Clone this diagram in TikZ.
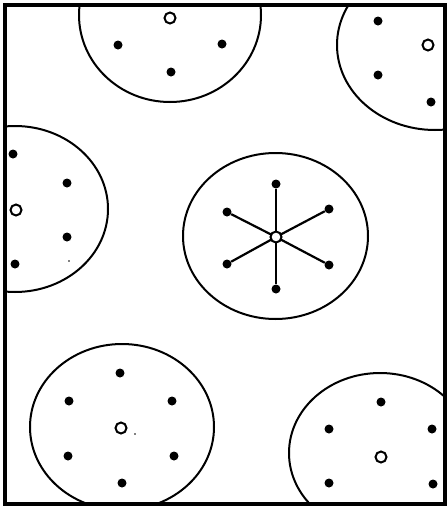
\documentclass[tikz,border=0pt]{standalone}
\begin{document}
\begin{tikzpicture}[x=1pt,y=-1pt,
  fdot/.style={circle,fill=black,inner sep=0pt,minimum size=9pt},
  odot/.style={circle,draw=black,fill=white,line width=2pt,inner sep=0pt,minimum size=11pt},
  tiny/.style={circle,fill=black,inner sep=0pt,minimum size=1.8pt},
  rim/.style={line width=2pt},
  spoke/.style={line width=2.2pt},
  frame/.style={line width=3.5pt}]
\useasboundingbox (0,0) rectangle (447,509);
% clipped cells
\begin{scope}
  \clip (5,5) rectangle (445,504);
  \draw[rim] (170,15) ellipse [x radius=91pt, y radius=87pt];
  \draw[rim] (435,45) ellipse [x radius=98pt, y radius=85pt];
  \draw[rim] (15,209) ellipse [x radius=93pt, y radius=83pt];
  \draw[rim] (275.5,236) ellipse [x radius=92.5pt, y radius=83pt];
  \draw[rim] (122,427) ellipse [x radius=92pt, y radius=83pt];
  \draw[rim] (380,453) ellipse [x radius=91pt, y radius=80pt];
\end{scope}
\draw[frame] (5,5) rectangle (445,504);
% top-centre cell
\node[odot] (a0) at (170,18) {};
\node[fdot] (a1) at (118,45) {};
\node[fdot] (a2) at (222,44) {};
\node[fdot] (a3) at (171,72) {};
% top-right cell
\node[fdot] (b1) at (378,21) {};
\node[odot] (b0) at (428,45) {};
\node[fdot] (b2) at (378,75) {};
\node[fdot] (b3) at (431,102) {};
% left cell
\node[fdot] (c1) at (13,154) {};
\node[fdot] (c2) at (67,183) {};
\node[odot] (c0) at (16,210) {};
\node[fdot] (c3) at (67,237) {};
\node[fdot] (c4) at (15,264) {};
\node[tiny] (c5) at (69,261) {};
% centre cell with star
\node[fdot] (s1) at (276,184) {};
\node[fdot] (s2) at (329,209) {};
\node[fdot] (s3) at (329,265) {};
\node[fdot] (s4) at (276,289) {};
\node[fdot] (s5) at (227,264) {};
\node[fdot] (s6) at (227,212) {};
\node[coordinate] (s0) at (276,237) {};
\foreach \k in {1,...,6} \draw[spoke] (s0) -- (s\k);
\node[odot] (s0c) at (276,237) {};
% bottom-left cell
\node[fdot] (d1) at (120,373) {};
\node[fdot] (d2) at (69,401) {};
\node[fdot] (d3) at (172,401) {};
\node[odot] (d0) at (121,428) {};
\node[tiny] (d7) at (135,434) {};
\node[fdot] (d4) at (68,456) {};
\node[fdot] (d5) at (174,456) {};
\node[fdot] (d6) at (122,483) {};
% bottom-right cell
\node[fdot] (e1) at (381,402) {};
\node[fdot] (e2) at (329,429) {};
\node[fdot] (e3) at (432,429) {};
\node[odot] (e0) at (381,457) {};
\node[fdot] (e4) at (329,483) {};
\node[fdot] (e5) at (433,484) {};
\end{tikzpicture}
\end{document}
